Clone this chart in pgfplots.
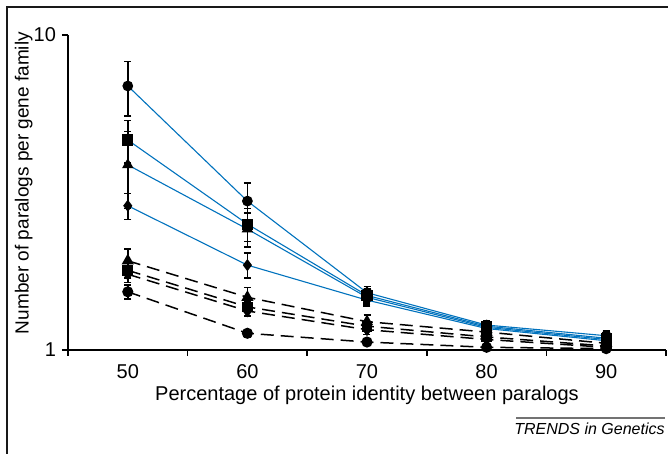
\documentclass[border=0pt]{standalone}
\usepackage{pgfplots}
\pgfplotsset{compat=1.18}
\usepackage{fontspec}
\setmainfont{Liberation Sans}
\definecolor{tblue}{RGB}{0,114,189}

\begin{document}
\begin{tikzpicture}
\useasboundingbox (-34pt,-52pt) rectangle (300pt,175pt);
% frame round the figure (top and left edges only, the rest is cropped)
\draw[line width=0.8pt,black!90] (-30.5pt,-52pt) -- (-30.5pt,171.5pt) -- (300pt,171.5pt);
\begin{axis}[
    scale only axis, width=299pt, height=157.5pt,
    at={(0,0)}, anchor=origin,
    ymode=log, ymin=1, ymax=10, xmin=45, xmax=95,
    axis x line=bottom, axis y line=left,
    axis line style={-, line width=0.75pt},
    font=\fontsize{10}{12}\selectfont,
    xtick={50,60,...,90},
    major x tick style={draw=none},
    minor xtick={45,55,...,95},
    ytick={1,10}, yticklabels={1,10},
    yminorticks=false,
    tick align=outside,
    major tick length=3pt, minor tick length=3pt,
    tick style={line width=0.75pt, black},
    /pgf/number format/assume math mode=true,
    xticklabel style={yshift=-0.5pt},
    yticklabel style={xshift=0.5pt},
    xlabel={Percentage of protein identity between paralogs},
    ylabel={Number of paralogs per gene family},
    xlabel style={at={(axis description cs:0.5,-0.143)}, anchor=center},
    ylabel style={at={(axis description cs:-0.074,0.53)}, anchor=center, font=\fontsize{9.5}{11}\selectfont},
    clip=false,
    error bars/y dir=both, error bars/y explicit,
    error bars/error bar style={black, line width=0.75pt},
    error bars/error mark options={rotate=90, mark size=1.75pt, line width=0.75pt, black},
    every axis plot/.append style={mark options={solid, fill=black, draw=black}},
  ]
% dashed series
\addplot[black, line width=0.75pt, dash pattern=on 6.5pt off 3.5pt, mark=triangle*, mark size=2.8pt]
  coordinates {(50,1.92) +- (0,0.17) (60,1.47) +- (0,0.11) (70,1.23) +- (0,0.06) (80,1.14) +- (0,0.03) (90,1.05) +- (0,0.03)};
\addplot[black, line width=0.75pt, dash pattern=on 6.5pt off 3.5pt, mark=square*, mark size=2.3pt]
  coordinates {(50,1.79) +- (0,0.10) (60,1.37) +- (0,0.05) (70,1.19) +- (0,0.04) (80,1.10) +- (0,0.03) (90,1.03) +- (0,0.02)};
\addplot[black, line width=0.75pt, dash pattern=on 6.5pt off 3.5pt, mark=diamond*, mark size=2.6pt]
  coordinates {(50,1.74) +- (0,0.10) (60,1.33) +- (0,0.05) (70,1.16) +- (0,0.04) (80,1.08) +- (0,0.03) (90,1.02) +- (0,0.02)};
\addplot[black, line width=0.75pt, dash pattern=on 6.5pt off 3.5pt, mark=*, mark size=2.4pt]
  coordinates {(50,1.53) +- (0,0.08) (60,1.13) +- (0,0.03) (70,1.06) +- (0,0.02) (80,1.02) +- (0,0.02) (90,1.01) +- (0,0.01)};
% blue series
\addplot[tblue, line width=0.55pt, mark=*, mark size=2.4pt]
  coordinates {(50,6.89) +- (0,1.35) (60,2.97) +- (0,0.42) (70,1.52) +- (0,0.07) (80,1.20) +- (0,0.04) (90,1.11) +- (0,0.04)};
\addplot[tblue, line width=0.55pt, mark=square*, mark size=2.5pt]
  coordinates {(50,4.64) +- (0,0.71) (60,2.51) +- (0,0.30) (70,1.49) +- (0,0.07) (80,1.19) +- (0,0.04) (90,1.09) +- (0,0.04)};
\addplot[tblue, line width=0.55pt, mark=triangle*, mark size=2.8pt]
  coordinates {(50,3.87) +- (0,1.06) (60,2.42) +- (0,0.30) (70,1.47) +- (0,0.07) (80,1.18) +- (0,0.04) (90,1.08) +- (0,0.04)};
\addplot[tblue, line width=0.55pt, mark=diamond*, mark size=2.6pt]
  coordinates {(50,2.87) +- (0,0.27) (60,1.86) +- (0,0.17) (70,1.44) +- (0,0.06) (80,1.17) +- (0,0.03) (90,1.07) +- (0,0.03)};
\end{axis}
% journal credit
\draw[black!55, line width=0.6pt] (224pt,-34pt) -- (298.5pt,-34pt);
\node[anchor=base east, font=\fontsize{8}{10}\selectfont\itshape, inner sep=0pt] at (298.5pt,-42.5pt) {TRENDS in Genetics};
\end{tikzpicture}
\end{document}
